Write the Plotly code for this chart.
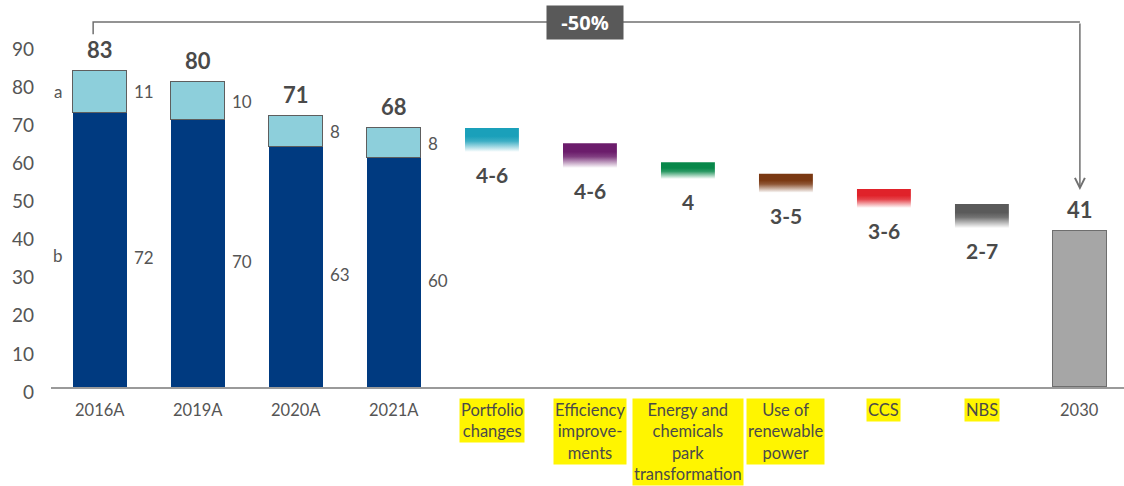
import plotly.graph_objects as go

# ---------------- data ----------------
categories = ["2016A", "2019A", "2020A", "2021A",
              "Portfolio<br>changes", "Efficiency<br>improve-<br>ments",
              "Energy and<br>chemicals<br>park<br>transformation",
              "Use of<br>renewable<br>power", "CCS", "NBS", "2030"]
highlighted = [False, False, False, False, True, True, True, True, True, True, False]

hist_years = ["2016A", "2019A", "2020A", "2021A"]
scope_b = [72, 70, 63, 60]
scope_a = [11, 10, 8, 8]
totals = [83, 80, 71, 68]

lever_labels = ["4-6", "4-6", "4", "3-5", "3-6", "2-7"]
lever_top = [68, 64, 59, 56, 52, 48]
lever_bottom = [61.7, 57.5, 54.6, 51.0, 47.0, 41.7]
lever_colors = ["#1AA0BA", "#6B1C6B", "#08884A", "#7A3812", "#E0222A", "#5A5A5A"]

target_value = 41
reduction_label = "-50%"
yticks = [0, 10, 20, 30, 40, 50, 60, 70, 80, 90]

# ---------------- styling ----------------
DARK_BLUE = "#003A80"
LIGHT_BLUE = "#8DCFDB"
TEXT = "#555555"
BOLD_TEXT = "#4A4A4A"
FONT = "Lato"
BW = 0.55

def hex_rgba(h, a):
    h = h.lstrip("#")
    r, g, b = int(h[0:2], 16), int(h[2:4], 16), int(h[4:6], 16)
    return f"rgba({r},{g},{b},{a})"

fig = go.Figure()

hist_x = list(range(len(hist_years)))
fig.add_trace(go.Bar(x=hist_x, y=scope_b, width=BW, marker=dict(color=DARK_BLUE, line=dict(width=0)),
                     showlegend=False, hoverinfo="skip"))
fig.add_trace(go.Bar(x=hist_x, y=scope_a, width=BW,
                     marker=dict(color=LIGHT_BLUE, line=dict(color="#5E5E5E", width=1.5)),
                     showlegend=False, hoverinfo="skip"))
fig.add_trace(go.Bar(x=[len(categories) - 1], y=[target_value], width=BW,
                     marker=dict(color="#A6A6A6", line=dict(color="#6E6E6E", width=1.5)),
                     showlegend=False, hoverinfo="skip"))

# floating lever bars with vertical gradient
for i, (top, bot, col) in enumerate(zip(lever_top, lever_bottom, lever_colors)):
    xc = len(hist_years) + i
    x0, x1 = xc - BW / 2, xc + BW / 2
    fig.add_trace(go.Scatter(
        x=[x0, x1, x1, x0, x0], y=[bot, bot, top, top, bot],
        mode="lines", line=dict(width=0), fill="toself",
        fillgradient=dict(type="vertical", start=bot, stop=top,
                          colorscale=[[0, hex_rgba(col, 0.0)], [0.45, hex_rgba(col, 0.85)], [0.65, col], [1, col]]),
        showlegend=False, hoverinfo="skip"))

annotations = []
# totals above historic bars
for i, t in enumerate(totals):
    annotations.append(dict(x=i, y=t, text=f"<b>{t}</b>", showarrow=False, yanchor="bottom", yshift=6,
                            font=dict(size=22, color=BOLD_TEXT, family=FONT)))
# segment values
for i, (b, a) in enumerate(zip(scope_b, scope_a)):
    annotations.append(dict(x=i + BW / 2, y=b + a / 2, text=str(a), showarrow=False, xanchor="left", xshift=5,
                            font=dict(size=17, color=TEXT, family=FONT)))
    annotations.append(dict(x=i + BW / 2, y=b / 2, text=str(b), showarrow=False, xanchor="left", xshift=5, yshift=-8,
                            font=dict(size=17, color=TEXT, family=FONT)))
# a / b labels
annotations.append(dict(x=-0.43, y=scope_b[0] + scope_a[0] / 2, text="a", showarrow=False,
                        font=dict(size=17, color=TEXT, family=FONT)))
annotations.append(dict(x=-0.43, y=scope_b[0] / 2, text="b", showarrow=False, yshift=-6,
                        font=dict(size=17, color=TEXT, family=FONT)))
# lever labels
for i, (lab, bot) in enumerate(zip(lever_labels, lever_bottom)):
    annotations.append(dict(x=len(hist_years) + i, y=bot, text=f"<b>{lab}</b>", showarrow=False,
                            yanchor="top", yshift=-8, font=dict(size=21, color=BOLD_TEXT, family=FONT)))
# target label
annotations.append(dict(x=len(categories) - 1, y=target_value, text=f"<b>{target_value}</b>", showarrow=False,
                        yanchor="bottom", yshift=6, font=dict(size=22, color=BOLD_TEXT, family=FONT)))
# category labels
for i, (cat, hl) in enumerate(zip(categories, highlighted)):
    annotations.append(dict(x=i, y=0, text=cat, showarrow=False, yanchor="top", yshift=-11,
                            bgcolor="#FFF500" if hl else "rgba(0,0,0,0)", borderpad=1,
                            font=dict(size=16.5, color="#4A4A4A" if hl else TEXT, family=FONT)))

# bracket
BR_Y = 95.8
LEFT_X = -0.07
RIGHT_X = len(categories) - 1
shapes = [dict(type="path", xref="x", yref="y",
               path=f"M {LEFT_X},92.6 L {LEFT_X},{BR_Y} L {RIGHT_X},{BR_Y}",
               line=dict(color="#707070", width=1.5))]
annotations.append(dict(x=RIGHT_X, y=51.7, ax=RIGHT_X, ay=BR_Y, axref="x", ayref="y", xref="x", yref="y",
                        showarrow=True, arrowhead=5, arrowsize=1.3, arrowwidth=1.5, arrowcolor="#707070", text=""))
annotations.append(dict(x=4.95, y=BR_Y, text=f"<b>{reduction_label}</b>", showarrow=False,
                        bgcolor="#595959", borderpad=3, width=70,
                        font=dict(size=20, color="white", family="Open Sans")))

fig.update_layout(
    barmode="stack", bargap=0,
    width=1124, height=486,
    margin=dict(l=51, r=0, t=10, b=99),
    plot_bgcolor="white", paper_bgcolor="white",
    xaxis=dict(range=[-0.5, 10.45], showticklabels=False, showgrid=False, zeroline=False,
               showline=True, linecolor="#9A9A9A", linewidth=1.5, ticks=""),
    yaxis=dict(range=[0, 98.95], tickvals=yticks, showgrid=False, zeroline=False, showline=False,
               tickfont=dict(size=19, color=TEXT, family=FONT), ticklabelstandoff=16, ticklabelshift=5),
    annotations=annotations, shapes=shapes,
)

fig.write_html("out.html")
